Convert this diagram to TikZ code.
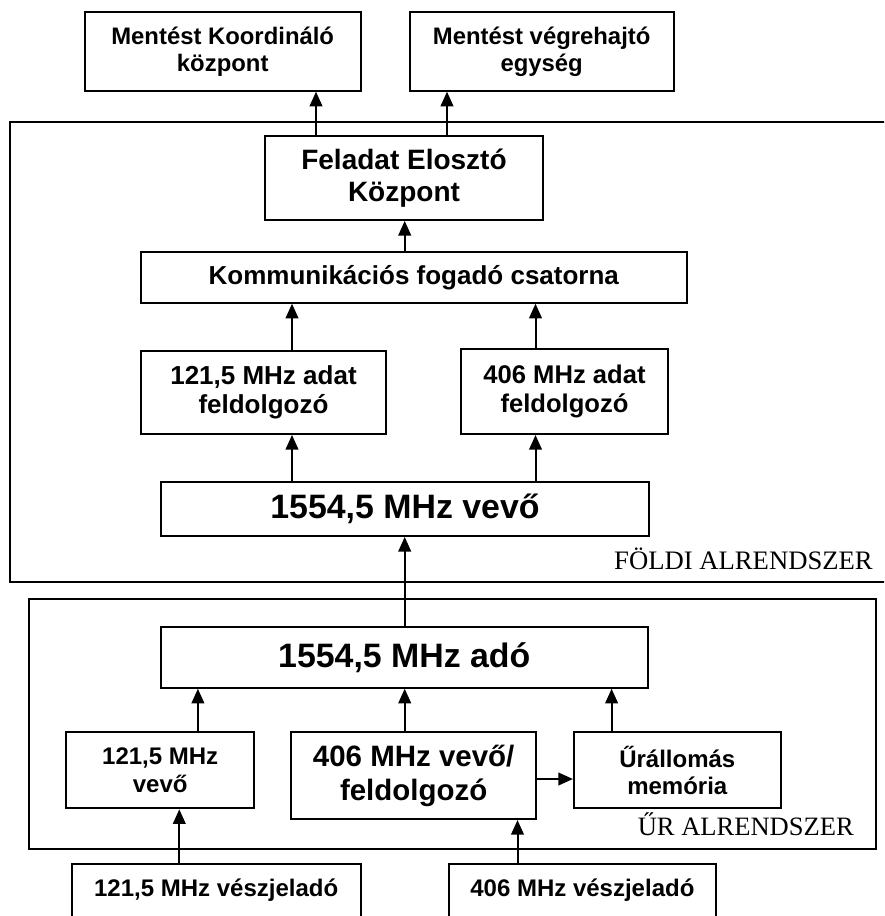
\documentclass[tikz,border=0pt]{standalone}
\usepackage{fontspec}
\setmainfont{Liberation Serif}
\newfontfamily\arial{Liberation Sans}
\usetikzlibrary{arrows.meta}
\newcommand{\fsz}[1]{\fontsize{#1}{1.14\dimexpr#1pt\relax}\selectfont}
\tikzset{
  box/.style={draw, line width=1.5pt, inner sep=0pt, align=center, font=\arial\bfseries\fsz{#1}},
  frame/.style={draw, line width=1.5pt},
  arr/.style={line width=1.5pt, -{Triangle[length=11pt,width=9.5pt]}},
  lbl/.style={inner sep=0pt, anchor=base east, font=\fsz{#1}}
}
\begin{document}
\begin{tikzpicture}[x=0.75pt,y=-0.75pt]
\useasboundingbox (0,0) rectangle (884,916);
\clip (0,0) rectangle (884,916);
% subsystem frames
\draw[frame] (900,122.3) -- (9.6,122.3) -- (9.6,582) -- (900,582);
\draw[frame] (29.3,598.8) rectangle (875.5,849);
% boxes
\node[box=17.9, minimum width=207pt, minimum height=58.8pt] (mk) at (222.7,51.5) {Mentést Koordináló\\központ};
\node[box=17.9, minimum width=197.9pt, minimum height=58.8pt] (mv) at (541.7,51.5) {Mentést végrehajtó\\egység};
\node[box=21, minimum width=208.5pt, minimum height=63.2pt] (fe) at (404,177.8) {Feladat Elosztó\\Központ};
\node[box=19.5, minimum width=409.2pt, minimum height=37.8pt] (ko) at (413.8,277.5) {Kommunikációs fogadó csatorna};
\node[box=19.5, minimum width=183.8pt, minimum height=62.5pt] (a121) at (263.5,392.3) {121,5 MHz adat\\feldolgozó};
\node[box=19.2, minimum width=155.3pt, minimum height=63.8pt] (a406) at (564.5,391.5) {406 MHz adat\\feldolgozó};
\node[box=25.4, minimum width=366.5pt, minimum height=40.7pt] (vv) at (405,508.8) {1554,5 MHz vevő};
\node[box=25.4, minimum width=365.5pt, minimum height=45.8pt] (ado) at (404.3,657.2) {1554,5 MHz adó};
\node[box=18, minimum width=140.6pt, minimum height=57pt] (v121) at (160.2,770.3) {121,5 MHz\\vevő};
\node[box=22.1, minimum width=183.5pt, minimum height=65pt] (v406) at (413.7,775.7) {406 MHz vevő/\\feldolgozó};
\node[box=18, minimum width=155pt, minimum height=57pt] (mem) at (677.3,770.3) {Űrállomás\\memória};
\node[box=18, minimum width=216.9pt, text height=23.8pt, text depth=40pt, inner ysep=0pt, anchor=base] (b121) at (216.2,896) {121,5 MHz vészjeladó};
\node[box=18, minimum width=200.5pt, text height=23.8pt, text depth=40pt, inner ysep=0pt, anchor=base] (b406) at (582.4,896) {406 MHz vészjeladó};
% labels
\node[lbl=20] (lf) at (873,569.3) {FÖLDI ALRENDSZER};
\node[lbl=19.9] (lu) at (854,835) {ŰR ALRENDSZER};
% connectors
\draw[arr] (fe.north -| 316,0) -- (mk.south -| 316,0);
\draw[arr] (fe.north -| 447,0) -- (mv.south -| 447,0);
\draw[arr] (ko.north -| 404.7,0) -- (fe.south -| 404.7,0);
\draw[arr] (a121.north -| 292,0) -- (ko.south -| 292,0);
\draw[arr] (a406.north -| 535.5,0) -- (ko.south -| 535.5,0);
\draw[arr] (vv.north -| 292,0) -- (a121.south -| 292,0);
\draw[arr] (vv.north -| 535.5,0) -- (a406.south -| 535.5,0);
\draw[arr] (ado.north -| 404.7,0) -- (vv.south -| 404.7,0);
\draw[arr] (v121.north -| 197.9,0) -- (ado.south -| 197.9,0);
\draw[arr] (v406.north -| 404.7,0) -- (ado.south -| 404.7,0);
\draw[arr] (mem.north -| 611.6,0) -- (ado.south -| 611.6,0);
\draw[arr] (v406.east |- 0,779) -- (mem.west |- 0,779);
\draw[arr] (b121.north -| 179.3,0) -- (v121.south -| 179.3,0);
\draw[arr] (b406.north -| 517.5,0) -- (v406.south -| 517.5,0);
\end{tikzpicture}
\end{document}
